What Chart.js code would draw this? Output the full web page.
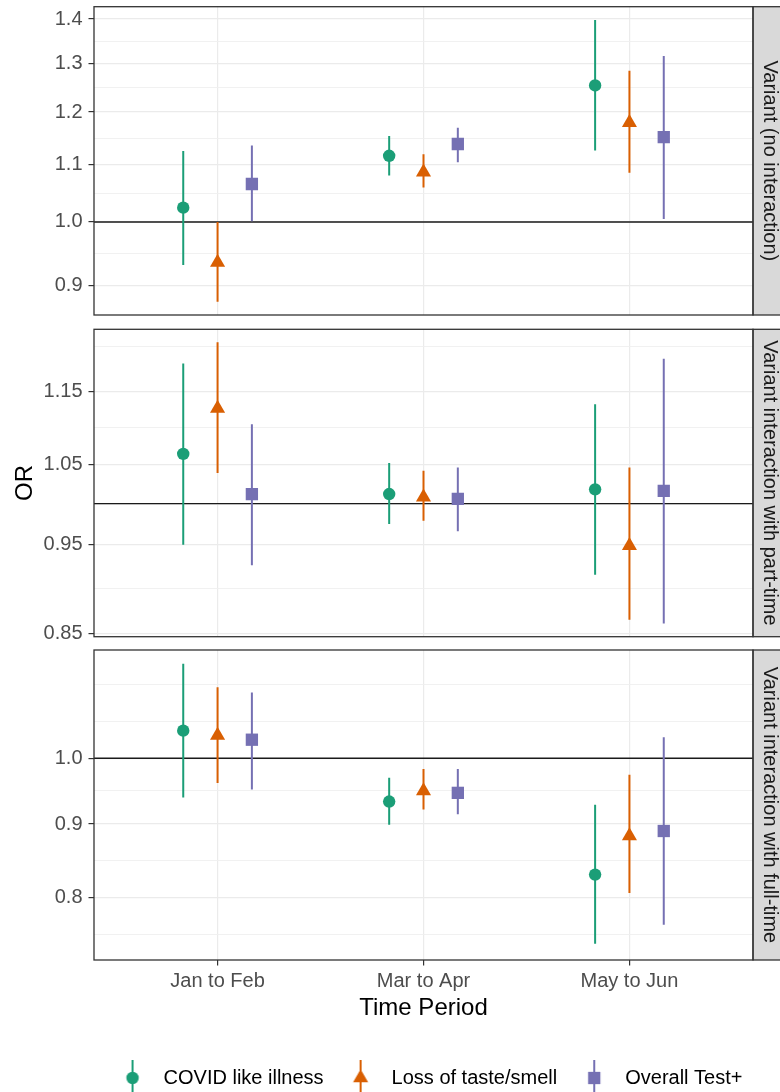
<!DOCTYPE html>
<html>
<head>
<meta charset="utf-8">
<script src="https://cdn.jsdelivr.net/npm/chart.js@4.4.1/dist/chart.umd.min.js"></script>
<style>
html, body { margin: 0; padding: 0; background: #fff; }
#wrap { position: relative; width: 780px; height: 1092px; overflow: hidden; }
canvas { position: absolute; left: 0; }
</style>
</head>
<body>
<div id="wrap">
  <canvas id="p1" width="780" height="318" style="top:0px"></canvas>
  <canvas id="p2" width="780" height="320" style="top:320px"></canvas>
  <canvas id="p3" width="854" height="452" style="top:640px"></canvas>
</div>
<script>
// categories
let periods = ['Jan to Feb', 'Mar to Apr', 'May to Jun']
let outcomes = ['COVID like illness', 'Loss of taste/smell', 'Overall Test+']
let panel_labels = ['Variant (no interaction)', 'Variant interaction with part-time', 'Variant interaction with full-time']

// rows = outcomes, columns = periods
let noint_or = [[1.024, 1.116, 1.254], [0.935, 1.086, 1.179], [1.065, 1.138, 1.151]]
let noint_lo = [[0.931, 1.080, 1.126], [0.876, 1.059, 1.085], [1.001, 1.104, 1.005]]
let noint_hi = [[1.125, 1.153, 1.398], [1.000, 1.119, 1.285], [1.135, 1.169, 1.317]]

let part_or = [[1.064, 1.012, 1.018], [1.126, 1.008, 0.949], [1.012, 1.006, 1.016]]
let part_lo = [[0.950, 0.975, 0.915], [1.039, 0.979, 0.865], [0.926, 0.966, 0.861]]
let part_hi = [[1.191, 1.052, 1.132], [1.223, 1.042, 1.046], [1.104, 1.046, 1.198]]

let full_or = [[1.045, 0.933, 0.830], [1.037, 0.949, 0.883], [1.030, 0.946, 0.890]]
let full_lo = [[0.939, 0.899, 0.743], [0.961, 0.921, 0.806], [0.951, 0.914, 0.766]]
let full_hi = [[1.163, 0.969, 0.928], [1.120, 0.983, 0.974], [1.111, 0.983, 1.034]]

// tick labels, minor grid values and limits of each panel
let noint_ticks = ['0.9', '1.0', '1.1', '1.2', '1.3', '1.4']
let noint_minor = [0.949, 1.049, 1.149, 1.249, 1.349]
let noint_range = [0.857, 1.429]
let part_ticks = ['0.85', '0.95', '1.05', '1.15']
let part_minor = [0.899, 0.999, 1.099, 1.216]
let part_range = [0.847, 1.243]
let full_ticks = ['0.8', '0.9', '1.0']
let full_minor = [0.754, 0.849, 0.949, 1.061, 1.126]
let full_range = [0.724, 1.189]

let null_or = 1

// styles
let colors = ['#1B9E77', '#D95F02', '#7570B3']
let shapes = ['circle', 'triangle', 'rect']
let sizes = [6.2, 8.7, 8.7]
let dodge = [-1 / 6, 0, 1 / 6]

Chart.defaults.font.family = "'Liberation Sans', Arial, sans-serif"
Chart.defaults.animation = false

function makeDatasets(or_vals, lo_vals, hi_vals) {
    let sets = []
    outcomes.forEach((name, k) => {
        sets.push({
            type: 'scatter',
            label: name,
            data: or_vals[k].map((v, i) => ({x: i + dodge[k], y: v})),
            pointStyle: shapes[k],
            pointRadius: sizes[k],
            pointHoverRadius: sizes[k],
            backgroundColor: colors[k],
            borderWidth: 0,
            order: 0
        })
    })
    outcomes.forEach((name, k) => {
        let pts = []
        lo_vals[k].forEach((lo, i) => {
            pts.push({x: i + dodge[k], y: lo}, {x: i + dodge[k], y: hi_vals[k][i]}, {x: i + dodge[k], y: null})
        })
        sets.push({
            type: 'line',
            label: name + ' CI',
            data: pts,
            borderColor: colors[k],
            borderWidth: 2,
            pointRadius: 0,
            spanGaps: false,
            fill: false,
            order: 1
        })
    })
    return sets
}

// reference line, panel border and facet strip
let panelDeco = {
    id: 'panelDeco',
    beforeDatasetsDraw(chart) {
        let ctx = chart.ctx, a = chart.chartArea
        let y = chart.scales.y.getPixelForValue(null_or)
        ctx.save()
        ctx.strokeStyle = '#1a1a1a'
        ctx.lineWidth = 1.4
        ctx.beginPath()
        ctx.moveTo(a.left, y)
        ctx.lineTo(a.right, y)
        ctx.stroke()
        ctx.restore()
    },
    afterDraw(chart, args, opts) {
        let ctx = chart.ctx, a = chart.chartArea
        ctx.save()
        ctx.fillStyle = '#D9D9D9'
        ctx.strokeStyle = '#333333'
        ctx.lineWidth = 1.3
        ctx.fillRect(a.right, a.top, 34, a.bottom - a.top)
        ctx.strokeRect(a.right, a.top, 34, a.bottom - a.top)
        ctx.translate(a.right + 16.5, (a.top + a.bottom) / 2)
        ctx.rotate(Math.PI / 2)
        ctx.fillStyle = '#1A1A1A'
        ctx.font = "20px 'Liberation Sans', Arial, sans-serif"
        ctx.textAlign = 'center'
        ctx.textBaseline = 'middle'
        ctx.fillText(opts.label, 0, 0)
        ctx.restore()
        ctx.save()
        ctx.strokeStyle = '#333333'
        ctx.lineWidth = 1.3
        ctx.strokeRect(a.left, a.top, a.right - a.left, a.bottom - a.top)
        ctx.restore()
    }
}

function yScale(tick_labels, minor, range, title) {
    let major = tick_labels.map(t => parseFloat(t))
    let isMajor = v => major.some(m => Math.abs(m - v) < 1e-9)
    return {
        type: 'logarithmic',
        position: 'left',
        min: range[0],
        max: range[1],
        bounds: 'data',
        afterBuildTicks: s => {
            s.ticks = major.concat(minor).sort((a, b) => a - b).map(v => ({value: v}))
        },
        afterFit: s => {
            s.width = 94
            s.paddingTop = 0
            s.paddingBottom = 0
        },
        ticks: {
            autoSkip: false,
            padding: 6,
            color: '#4D4D4D',
            font: {size: 20},
            callback: v => {
                let i = major.findIndex(m => Math.abs(m - v) < 1e-9)
                return i >= 0 ? tick_labels[i] : ''
            }
        },
        grid: {
            color: c => (c.tick && isMajor(c.tick.value)) ? '#EBEBEB' : '#EFEFEF',
            lineWidth: c => (c.tick && isMajor(c.tick.value)) ? 1.2 : 0.9,
            drawTicks: true,
            tickLength: 5.5,
            tickWidth: 1.2,
            tickColor: c => (c.tick && isMajor(c.tick.value)) ? '#333333' : 'rgba(0,0,0,0)'
        },
        border: {display: false},
        title: title ? {display: true, text: title, color: '#000', font: {size: 24}, padding: {top: 10.6, bottom: 0}} : {display: false}
    }
}

function xScale(bottom) {
    return {
        type: 'linear',
        min: -0.6,
        max: 2.6,
        afterBuildTicks: s => { s.ticks = periods.map((p, i) => ({value: i})) },
        afterFit: s => {
            s.height = bottom ? 92 : 0
            s.paddingLeft = 0
            s.paddingRight = 0
        },
        ticks: {
            display: bottom,
            autoSkip: false,
            maxRotation: 0,
            padding: 3.5,
            color: '#4D4D4D',
            font: {size: 20},
            callback: v => periods[v]
        },
        grid: {
            color: '#EBEBEB',
            lineWidth: 1.2,
            drawTicks: bottom,
            tickLength: 5.5,
            tickWidth: 1.2,
            tickColor: '#333333'
        },
        border: {display: false},
        title: bottom ? {display: true, text: 'Time Period', color: '#000', font: {size: 24}, padding: {top: 0, bottom: 29.6}} : {display: false}
    }
}

function stripAxis(width) {
    return {
        type: 'linear',
        position: 'right',
        grid: {display: false},
        ticks: {display: false},
        border: {display: false},
        afterFit: s => {
            s.width = width
            s.paddingTop = 0
            s.paddingBottom = 0
        }
    }
}

function makeKey(k) {
    let c = document.createElement('canvas')
    c.width = 24
    c.height = 36
    let g = c.getContext('2d')
    g.strokeStyle = colors[k]
    g.lineWidth = 2
    g.beginPath()
    g.moveTo(12, 0)
    g.lineTo(12, 36)
    g.stroke()
    g.fillStyle = colors[k]
    g.beginPath()
    if (k === 0) {
        g.arc(12, 18, sizes[0], 0, Math.PI * 2)
    } else if (k === 1) {
        let r = sizes[1]
        g.moveTo(12, 18 - r)
        g.lineTo(12 + r * Math.sin(2 * Math.PI / 3), 18 + r / 2)
        g.lineTo(12 - r * Math.sin(2 * Math.PI / 3), 18 + r / 2)
        g.closePath()
    } else {
        let h = sizes[2] * Math.SQRT1_2
        g.rect(12 - h, 18 - h, 2 * h, 2 * h)
    }
    g.fill()
    return c
}
let keys = outcomes.map((o, k) => makeKey(k))

function makePanel(id, label, or_vals, lo_vals, hi_vals, ticks, minor, range, pad, opts) {
    let bottom = !!opts.bottom
    let canvas = document.querySelector(id)
    return new Chart(canvas.getContext('2d'), {
        type: 'scatter',
        data: {datasets: makeDatasets(or_vals, lo_vals, hi_vals)},
        options: {
            responsive: false,
            animation: false,
            events: [],
            layout: {padding: pad, autoPadding: false},
            scales: {
                x: xScale(bottom),
                y: yScale(ticks, minor, range, opts.title),
                y2: stripAxis(canvas.width - 753)
            },
            plugins: {
                tooltip: {enabled: false},
                panelDeco: {label: label},
                legend: bottom ? {
                    display: true,
                    position: 'bottom',
                    maxHeight: 40,
                    labels: {
                        usePointStyle: true,
                        pointStyleWidth: 42,
                        padding: 16,
                        color: '#000',
                        font: {size: 20},
                        generateLabels: () => outcomes.map((t, k) => ({
                            text: t, pointStyle: keys[k], fillStyle: colors[k], strokeStyle: colors[k],
                            lineWidth: 0, hidden: false, datasetIndex: k, fontColor: '#000'
                        }))
                    }
                } : {display: false}
            }
        },
        plugins: [panelDeco]
    })
}

makePanel('#p1', panel_labels[0], noint_or, noint_lo, noint_hi, noint_ticks, noint_minor, noint_range,
    {top: 6.7, bottom: 3, left: 0, right: 0}, {})
makePanel('#p2', panel_labels[1], part_or, part_lo, part_hi, part_ticks, part_minor, part_range,
    {top: 9.3, bottom: 3.3, left: 0, right: 0}, {title: 'OR'})
makePanel('#p3', panel_labels[2], full_or, full_lo, full_hi, full_ticks, full_minor, full_range,
    {top: 10, bottom: 0, left: 0, right: 0}, {bottom: true})
</script>
</body>
</html>
